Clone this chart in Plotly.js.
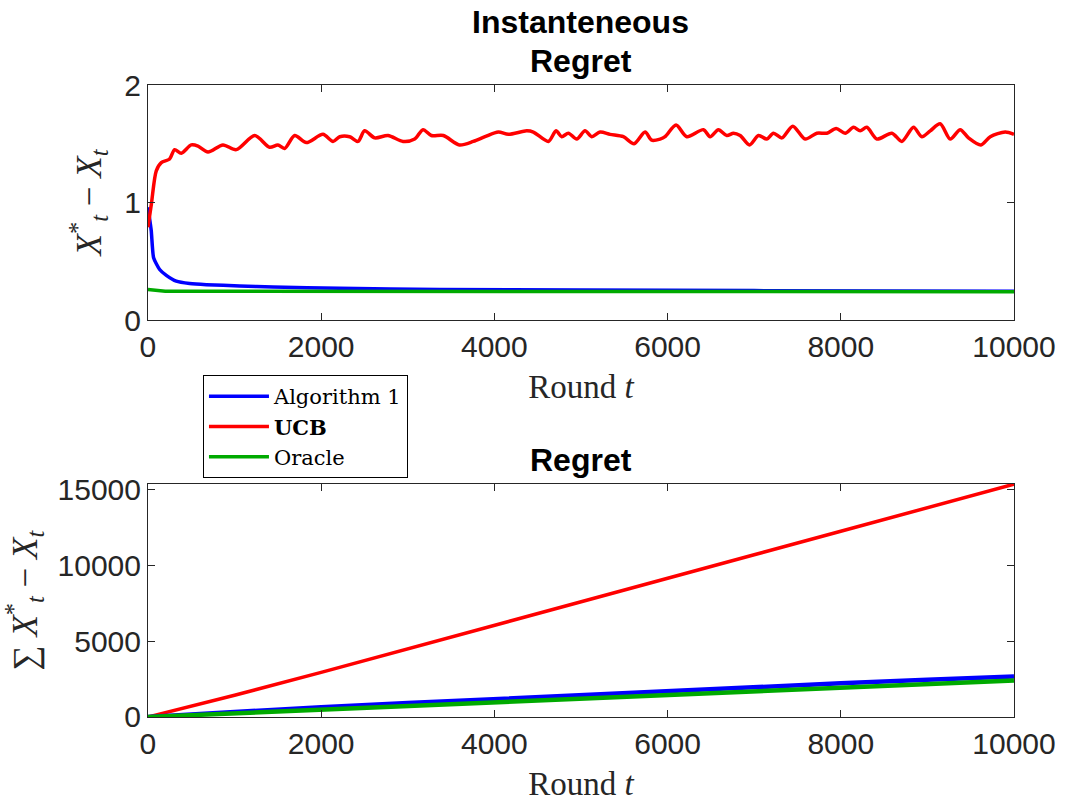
<!DOCTYPE html>
<html>
<head>
<meta charset="utf-8">
<script src="https://cdn.plot.ly/plotly-3.0.1.min.js"></script>
<style>
  html, body { margin: 0; padding: 0; background: #fff; }
  #chart { width: 1066px; height: 802px; }
</style>
</head>
<body>
<div id="chart"></div>
<script>
// instantaneous regret (round, value)
var ucbRounds = [0, 40, 96, 154, 250, 308, 385, 500, 578, 693, 866, 1020, 1232, 1405, 1500, 1578, 1694, 1829, 2021, 2137, 2214, 2329, 2425, 2502, 2618, 2772, 2945, 3080, 3176, 3272, 3411, 3596, 3757, 3892, 4046, 4162, 4374, 4450, 4624, 4712, 4778, 4855, 4951, 5047, 5124, 5221, 5336, 5490, 5613, 5740, 5817, 5914, 5971, 6098, 6222, 6414, 6491, 6587, 6684, 6761, 6838, 6946, 7050, 7146, 7223, 7319, 7446, 7589, 7724, 7839, 7947, 8051, 8147, 8224, 8301, 8417, 8590, 8705, 8840, 8936, 9033, 9148, 9264, 9379, 9475, 9618, 9726, 9899, 10000];
var ucbInst = [0.79, 0.99, 1.27, 1.34, 1.37, 1.45, 1.42, 1.49, 1.48, 1.43, 1.49, 1.45, 1.57, 1.47, 1.49, 1.46, 1.57, 1.51, 1.58, 1.52, 1.56, 1.56, 1.52, 1.61, 1.55, 1.57, 1.52, 1.54, 1.62, 1.57, 1.57, 1.49, 1.52, 1.56, 1.60, 1.58, 1.61, 1.60, 1.52, 1.61, 1.56, 1.59, 1.54, 1.61, 1.56, 1.60, 1.58, 1.56, 1.50, 1.60, 1.53, 1.54, 1.56, 1.66, 1.56, 1.62, 1.56, 1.62, 1.57, 1.59, 1.57, 1.49, 1.57, 1.54, 1.59, 1.55, 1.65, 1.54, 1.59, 1.59, 1.63, 1.59, 1.64, 1.61, 1.64, 1.54, 1.59, 1.52, 1.64, 1.56, 1.61, 1.67, 1.54, 1.62, 1.55, 1.49, 1.56, 1.60, 1.58];

var algRounds = [0, 38, 65, 135, 212, 327, 481, 674, 1059, 1444, 2214, 3369, 5000, 7000, 10000];
var algInst = [0.96, 0.76, 0.53, 0.43, 0.38, 0.33, 0.31, 0.30, 0.29, 0.28, 0.27, 0.26, 0.255, 0.25, 0.245];

var oracleRounds = [0, 200, 1000, 3000, 6000, 10000];
var oracleInst = [0.26, 0.245, 0.245, 0.245, 0.24, 0.24];

// cumulative regret, read every 1000 rounds
var cumRounds = [0, 1000, 2000, 3000, 4000, 5000, 6000, 7000, 8000, 9000, 10000];
var ucbCum = [0, 1430, 2940, 4480, 6040, 7600, 9150, 10700, 12250, 13800, 15360];
var algCum = [0, 350, 650, 920, 1190, 1450, 1710, 1965, 2220, 2450, 2677];
var oracleCum = [0, 245, 490, 730, 970, 1210, 1450, 1690, 1930, 2170, 2415];

var xTicks = [0, 2000, 4000, 6000, 8000, 10000];
var yTicksTop = [0, 1, 2];
var yTicksBottom = [0, 5000, 10000, 15000];

var BLUE = '#0000ff', RED = '#ff0000', GREEN = '#00aa00';
var INK = '#262626';
var SANS = 'Liberation Sans, Arial, Helvetica, sans-serif';
var SERIF = 'Liberation Serif, Times New Roman, serif';

var data = [
  {x: algRounds, y: algInst, name: 'Algorithm 1', type: 'scatter', mode: 'lines',
   line: {color: BLUE, width: 3.5, shape: 'spline', smoothing: 0.5}, xaxis: 'x', yaxis: 'y'},
  {x: ucbRounds, y: ucbInst, name: '<b>UCB</b>', type: 'scatter', mode: 'lines',
   line: {color: RED, width: 3.5, shape: 'spline', smoothing: 0.8}, xaxis: 'x', yaxis: 'y'},
  {x: oracleRounds, y: oracleInst, name: 'Oracle', type: 'scatter', mode: 'lines',
   line: {color: GREEN, width: 3.5}, xaxis: 'x', yaxis: 'y'},
  {x: cumRounds, y: ucbCum, name: 'UCB', type: 'scatter', mode: 'lines', showlegend: false,
   line: {color: RED, width: 3.5}, xaxis: 'x2', yaxis: 'y2'},
  {x: cumRounds, y: algCum, name: 'Algorithm 1', type: 'scatter', mode: 'lines', showlegend: false,
   line: {color: BLUE, width: 4.5}, xaxis: 'x2', yaxis: 'y2'},
  {x: cumRounds, y: oracleCum, name: 'Oracle', type: 'scatter', mode: 'lines', showlegend: false,
   line: {color: GREEN, width: 4.5}, xaxis: 'x2', yaxis: 'y2'}
];

function xAxis(anchor, dom) {
  return {
    domain: dom, anchor: anchor, range: [0, 10000],
    tickvals: xTicks, ticktext: xTicks.map(String),
    ticks: 'inside', ticklen: 7, tickcolor: INK,
    showline: true, linecolor: INK, linewidth: 1, mirror: 'ticks',
    showgrid: false, zeroline: false,
    tickfont: {family: SANS, size: 30, color: INK},
    title: {text: 'Round <i>t</i>', font: {family: SERIF, size: 33, color: INK}, standoff: 12}
  };
}

function yAxis(anchor, dom, rng, ticks, title) {
  return {
    domain: dom, anchor: anchor, range: rng,
    tickvals: ticks, ticktext: ticks.map(String),
    ticks: 'inside', ticklen: 7, tickcolor: INK,
    showline: true, linecolor: INK, linewidth: 1, mirror: 'ticks',
    showgrid: false, zeroline: false,
    tickfont: {family: SANS, size: 30, color: INK},
    title: {text: title, font: {family: SERIF, size: 35, color: INK}, standoff: 12}
  };
}

var xdom = [0.1388, 0.9512];
var layout = {
  width: 1066, height: 802,
  margin: {l: 0, r: 0, t: 0, b: 0},
  paper_bgcolor: '#fff', plot_bgcolor: '#fff',
  showlegend: true,
  legend: {
    x: 0.1904, y: 1 - 375 / 802, xanchor: 'left', yanchor: 'top',
    bgcolor: '#fff', bordercolor: '#000', borderwidth: 1,
    font: {family: 'DejaVu Serif, serif', size: 21, color: '#000'},
    itemwidth: 60, tracegroupgap: 0
  },
  xaxis: xAxis('y', xdom),
  yaxis: yAxis('x', [0.601, 0.894], [0, 2], yTicksTop,
    '<i>X</i><sup>*</sup><sub><i>t</i></sub> \u2212 <i>X</i><sub><i>t</i></sub>'),
  xaxis2: xAxis('y2', xdom),
  yaxis2: yAxis('x2', [0.106, 0.3965], [0, 15370], yTicksBottom,
    '\u2211 <i>X</i><sup>*</sup><sub><i>t</i></sub> \u2212 <i>X</i><sub><i>t</i></sub>'),
  annotations: [
    {text: '<b>Instanteneous</b>', x: 0.545, y: 1 - 22 / 802, xref: 'paper', yref: 'paper',
     xanchor: 'center', yanchor: 'middle', showarrow: false,
     font: {family: SANS, size: 32, color: '#000'}},
    {text: '<b>Regret</b>', x: 0.545, y: 1 - 61 / 802, xref: 'paper', yref: 'paper',
     xanchor: 'center', yanchor: 'middle', showarrow: false,
     font: {family: SANS, size: 32, color: '#000'}},
    {text: '<b>Regret</b>', x: 0.545, y: 1 - 460 / 802, xref: 'paper', yref: 'paper',
     xanchor: 'center', yanchor: 'middle', showarrow: false,
     font: {family: SANS, size: 32, color: '#000'}}
  ]
};

Plotly.newPlot('chart', data, layout, {showLink: false, displayModeBar: false, staticPlot: true});
</script>
</body>
</html>
